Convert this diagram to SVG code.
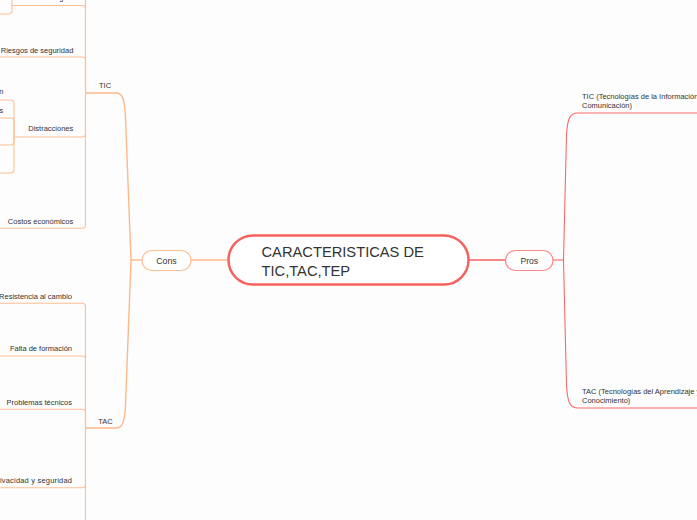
<svg xmlns="http://www.w3.org/2000/svg" width="697" height="520" viewBox="0 0 697 520">
<style>
text{font-family:"Liberation Sans",Arial,sans-serif;fill:#333}
.s{font-size:7.5px}
.e{text-anchor:end}
.o{fill:none;stroke:#ffbf93;stroke-width:1.1}
.o2{fill:none;stroke:#ffb88a;stroke-width:1.4}
.r{fill:none;stroke:#f76b6b;stroke-width:1.1}
.r2{fill:none;stroke:#f6605e;stroke-width:1.5}
</style>
<rect width="697" height="520" fill="#fdfdfd"/>
<g id="connectors">
<path class="r2" d="M469,260 H505.5"/>
<path class="o2" d="M228,260 H191"/>
<path class="o2" d="M142,260 H131"/>
<path class="o2" d="M131,260 L125.5,118 C124.7,98 122,93 116,93 H86"/>
<path class="o2" d="M131,260 L125.5,405 C124.7,423 122,428 116,428 H86"/>
<path class="r" d="M553,260 H563.5"/>
<path class="r" d="M563.5,260 L566.5,135 C567.5,118 570,113 578,113 H700"/>
<path class="r" d="M563.5,260 L566.5,385 C567.5,403 570,408 578,408 H700"/>
<path class="o" d="M85.5,93 V-10"/>
<path class="o" d="M85.5,93 V9 Q85.5,5.5 82,5.5 H12"/>
<path class="o" d="M12,-5 V10.5 Q12,14 8.5,14 H-5"/>
<path class="o" d="M85.5,93 V60.5 Q85.5,57 82,57 H-5"/>
<path class="o" d="M85.5,93 V133.5 Q85.5,137 82,137 H14"/>
<path class="o" d="M85.5,93 V224.7 Q85.5,228.2 82,228.2 H-5"/>
<path class="o" d="M14,137 V103.5 Q14,100 10.5,100 H-5"/>
<path class="o" d="M14,137 V121.5 Q14,118 10.5,118 H-5"/>
<path class="o" d="M14,137 V141.5 Q14,145 10.5,145 H-5"/>
<path class="o" d="M14,137 V169.5 Q14,173 10.5,173 H-5"/>
<path class="o" d="M85.5,428 V306.8 Q85.5,303.3 82,303.3 H-5"/>
<path class="o" d="M85.5,428 V359.5 Q85.5,356 82,356 H-5"/>
<path class="o" d="M85.5,428 V412.8 Q85.5,409.3 82,409.3 H-5"/>
<path class="o" d="M85.5,428 V484.2 Q85.5,487.7 82,487.7 H-5"/>
<path class="o" d="M85.5,428 V530"/>
</g>
<g id="center">
<rect x="228.5" y="235.5" width="240" height="49" rx="24.5" fill="#fff" stroke="#f6605e" stroke-width="2.5"/>
<text x="261.5" y="256.5" font-size="14.7">CARACTERISTICAS DE</text>
<text x="261.5" y="275.5" font-size="14.7">TIC,TAC,TEP</text>
</g>
<g id="cons">
<rect x="142" y="250.5" width="49" height="20" rx="10" fill="#fff" stroke="#ffbf93" stroke-width="1.2"/>
<text x="166.5" y="263.5" font-size="8.8" text-anchor="middle">Cons</text>
</g>
<g id="pros">
<rect x="505.5" y="250.5" width="47.5" height="20" rx="10" fill="#fff" stroke="#f88" stroke-width="1.2"/>
<text x="529.3" y="263.5" font-size="8.6" text-anchor="middle">Pros</text>
</g>
<g id="tic"><text class="s" x="99" y="88">TIC</text></g>
<g id="tac"><text class="s" x="98.3" y="423.5">TAC</text></g>
<g id="tic-top"><text class="s e" x="73" y="-0.5">Adicción tecnológica</text></g>
<g id="riesgos"><text class="s e" x="73.3" y="52.5">Riesgos de seguridad</text></g>
<g id="distracciones"><text class="s e" x="73.3" y="131">Distracciones</text></g>
<g id="dist-1"><text class="s e" x="3.5" y="93.7">Desinformación</text></g>
<g id="dist-2"><text class="s e" x="3.2" y="112.7">Redes sociales</text></g>
<g id="costos"><text class="s e" x="73.3" y="224">Costos económicos</text></g>
<g id="resistencia"><text class="s e" x="72" y="298.5">Resistencia al cambio</text></g>
<g id="falta"><text class="s e" x="72" y="351">Falta de formación</text></g>
<g id="problemas"><text class="s e" x="72" y="404.5">Problemas técnicos</text></g>
<g id="privacidad"><text class="s" x="-8" y="483" textLength="80" lengthAdjust="spacing">Privacidad y seguridad</text></g>
<g id="tic-pros">
<text class="s" x="582" y="99">TIC (Tecnologías de la Información y la</text>
<text class="s" x="582" y="108">Comunicación)</text>
</g>
<g id="tac-pros">
<text class="s" x="582" y="394">TAC (Tecnologías del Aprendizaje y el</text>
<text class="s" x="582" y="403">Conocimiento)</text>
</g>
</svg>
